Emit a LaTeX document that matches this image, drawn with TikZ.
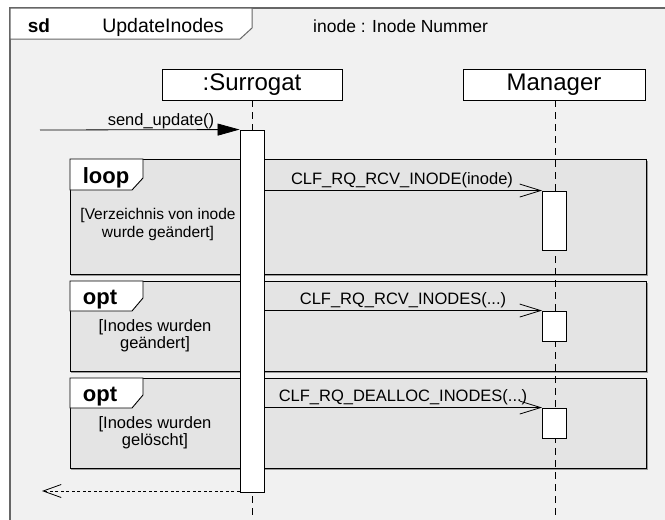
\documentclass[tikz,border=0pt]{standalone}
\usepackage{fontspec}
\setmainfont{Liberation Sans}
\usetikzlibrary{arrows.meta}
\definecolor{diagbg}{HTML}{F1F1F1}
\definecolor{fragbg}{HTML}{E4E4E4}
\definecolor{framegray}{HTML}{666666}
\definecolor{shadowgray}{HTML}{9A9A9A}
\newcommand{\pxsize}[2]{\fontsize{#1}{#2}\selectfont}

\tikzset{
  headbox/.style={draw=black, fill=white, line width=0.8pt, minimum height=31pt,
                  inner sep=0pt, font=\pxsize{24}{24}},
  lifeline/.style={draw=black, line width=0.8pt, dash pattern=on 7pt off 5pt},
  actbar/.style={draw=black, fill=white, line width=0.9pt, minimum width=24pt,
                 inner sep=0pt},
  msglabel/.style={anchor=base, inner sep=0pt, font=\pxsize{16.5}{18}},
  syncmsg/.style={draw=black, line width=0.8pt, -{Triangle[length=22pt,width=12pt]}},
  asyncmsg/.style={draw=black, line width=0.8pt, -{Straight Barb[length=21pt,width=13pt]}},
  replymsg/.style={draw=black, line width=0.8pt, dash pattern=on 3pt off 2.5pt,
                   -{Straight Barb[length=18pt,width=13pt]}},
  fragbox/.style={draw=black, fill=fragbg, line width=0.9pt},
  fragshadow/.style={draw=shadowgray, line width=1pt},
  fragtab/.style={draw=black, fill=white, line width=0.9pt},
  fragkw/.style={anchor=base, inner sep=0pt, font=\bfseries\pxsize{22}{22}},
  guard/.style={align=center, inner sep=0pt, font=\pxsize{16.5}{17}}
}

\begin{document}
\begin{tikzpicture}[x=1pt, y=-1pt]
  \useasboundingbox (0,0) rectangle (665,520);

  % diagram frame
  \fill[white] (0,0) rectangle (665,520);
  \fill[diagbg] (10,8) rectangle (665,520);
  \draw[framegray, line width=1.5pt] (10,520) -- (10,8) -- (665,8);

  % frame heading
  \draw[fill=white, draw=framegray, line width=1pt]
    (10,8) -- (252,8) -- (252,28) -- (240,39) -- (10,39) -- cycle;
  \node[anchor=base, inner sep=0pt, font=\bfseries\pxsize{19}{19}] (sd) at (39,32) {sd};
  \node[anchor=base, inner sep=0pt, font=\pxsize{19.5}{19.5}] (title) at (163,32) {UpdateInodes};
  \node[anchor=base west, inner sep=0pt, font=\pxsize{17.5}{17.5}] (decl) at (313,32) {inode : Inode Nummer};

  % combined fragments
  \foreach \ytop/\ybot/\ytab/\ycut in {159/274/190/178, 281/371/311/298, 378/468/408/395} {
    \draw[fragshadow] (647,\ytop+1.5) -- (647,\ybot+1) -- (71,\ybot+1);
    \draw[fragbox] (70,\ytop) rectangle (646,\ybot);
    \draw[fragtab] (70,\ytop) -- (143,\ytop) -- (143,\ycut) -- (132,\ytab) -- (70,\ytab) -- cycle;
  }
  \node[fragkw] (kwloop) at (106,183) {loop};
  \node[fragkw] (kwopt1) at (100,304) {opt};
  \node[fragkw] (kwopt2) at (100,401) {opt};

  \node[guard, font=\pxsize{15.5}{18}] (g1) at (158,224)
    {[Verzeichnis von inode\\wurde geändert]};
  \node[guard] (g2) at (155,336) {[Inodes wurden\\geändert]};
  \node[guard] (g3) at (155,433) {[Inodes wurden\\gelöscht]};

  % lifeline heads
  \node[headbox, minimum width=180pt] (sur) at (252,84.5) {:Surrogat};
  \node[headbox, minimum width=182pt] (man) at (554,84.5) {Manager};

  % lifelines
  \coordinate (surEnd) at (252,520);
  \coordinate (manEnd) at (555,520);
  \draw[lifeline] (sur.south) -- (surEnd);
  \draw[lifeline] (man.south -| manEnd) -- (manEnd);

  % activations
  \node[actbar, minimum height=362pt] (actS) at (252,311) {};
  \node[actbar, minimum height=59pt] (actM1) at (554.5,220.5) {};
  \node[actbar, minimum height=30pt] (actM2) at (554.5,326) {};
  \node[actbar, minimum height=30pt] (actM3) at (554.5,423) {};

  % messages
  \coordinate (caller) at (40,130);
  \draw[syncmsg] (caller) -- (actS.north west);
  \node[msglabel] (m0) at (161,125) {send\_update()};

  \draw[asyncmsg] (actS.east |- actM1.north) -- (actM1.north west);
  \node[msglabel] (m1) at (402,184) {CLF\_RQ\_RCV\_INODE(inode)};

  \draw[asyncmsg] (actS.east |- actM2.north) -- (actM2.north west);
  \node[msglabel] (m2) at (403,304) {CLF\_RQ\_RCV\_INODES(...)};

  \draw[asyncmsg] (actS.east |- actM3.north) -- (actM3.north west);
  \node[msglabel] (m3) at (403,401) {CLF\_RQ\_DEALLOC\_INODES(...)};

  \coordinate (replyEnd) at (42,491);
  \draw[replymsg] (actS.west |- replyEnd) -- (replyEnd);
\end{tikzpicture}
\end{document}
